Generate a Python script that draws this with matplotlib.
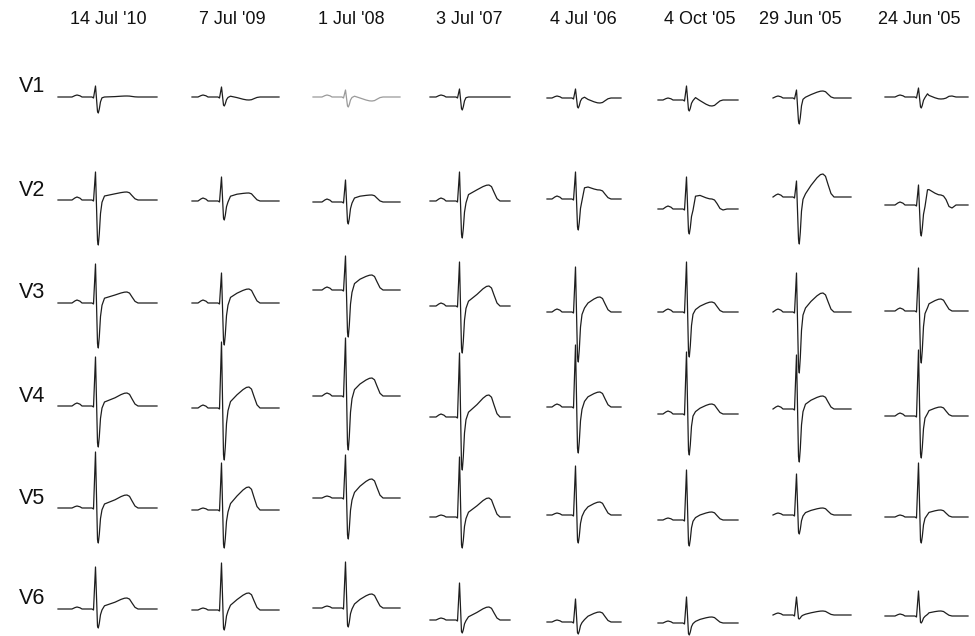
import numpy as np
import matplotlib.pyplot as plt

plt.rcParams['font.family'] = ['Liberation Sans', 'DejaVu Sans']

# recording dates (columns) and precordial leads (rows)
dates = ["14 Jul '10", "7 Jul '09", "1 Jul '08", "3 Jul '07",
         "4 Jul '06", "4 Oct '05", "29 Jun '05", "24 Jun '05"]
leads = ["V1", "V2", "V3", "V4", "V5", "V6"]

# per-cell values (pixels, up = positive)
# isoelectric level of every trace
baseline = [
    [97, 97, 97, 97, 98, 100, 98, 97],
    [200, 201, 202, 201, 199, 209, 197, 205],
    [303, 303, 290, 306, 312, 312, 312, 311],
    [406, 408, 396, 417, 407, 414, 409, 416],
    [508, 510, 498, 517, 515, 520, 515, 517],
    [609, 610, 608, 620, 622, 623, 615, 616],
]
r_amp = [
    [11, 10, 7, 8, 9, 14, 8, 9],
    [28, 24, 22, 29, 27, 32, 16, 20],
    [39, 30, 34, 44, 45, 50, 39, 43],
    [49, 66, 58, 64, 62, 62, 54, 66],
    [56, 47, 43, 60, 49, 50, 41, 54],
    [42, 47, 46, 37, 23, 26, 18, 25],
]
s_depth = [
    [16, 9, 10, 13, 10, 11, 26, 11],
    [45, 19, 22, 37, 31, 25, 47, 31],
    [45, 42, 47, 47, 50, 45, 61, 52],
    [41, 52, 54, 53, 46, 41, 53, 42],
    [35, 38, 41, 31, 28, 26, 19, 26],
    [19, 20, 19, 13, 12, 12, 4, 7],
]
st_level = [
    [0, 1, 1, 0, 1, 3, 1, 4],
    [5, 6, 5, 8, 14, 16, 4, 19],
    [6, 7, 8, 6, 5, 3, 5, 4],
    [5, 8, 8, 6, 7, 3, 6, 3],
    [5, 8, 7, 6, 5, 3, 3, 3],
    [4, 6, 5, 4, 3, 2, 1, 2],
]
t_amp = [
    [1, -3, -4, 0, -5, -6, 7, -2],
    [8, 8, 7, 16, 9, 10, 23, 10],
    [11, 14, 15, 20, 15, 10, 19, 12],
    [13, 21, 18, 22, 15, 10, 13, 9],
    [13, 23, 19, 19, 13, 8, 7, 7],
    [11, 17, 14, 13, 10, 6, 4, 5],
]
t_after = [
    [0, 0, 0, 0, 0, 0, 0, 1],
    [0, 0, 0, 0, 0, -1, 0, -3],
    [0, 0, 0, 0, 0, 0, 0, 0],
    [0, 0, 0, 0, 0, 0, 0, 0],
    [0, 0, 0, 0, 0, 0, 0, 0],
    [0, 0, 0, 0, 0, 0, 0, 0],
]
p_amp = [2, 3, 3, 3, 2, 2]

# horizontal layout of each column (pixels)
spike_x = [96, 222, 346, 460, 576, 687, 797, 919]
start_x = [58, 192, 313, 430, 547, 658, 773, 885]
end_x = [157, 279, 400, 510, 621, 738, 851, 968]
tpeak_x = [127, 249, 372, 489, 600, 712, 823, 941]
header_x = [108, 232, 351, 469, 583, 700, 800, 919]

fig = plt.figure(figsize=(9.75, 6.36), dpi=100)
ax = fig.add_axes([0, 0, 1, 1])
ax.set_xlim(0, 975)
ax.set_ylim(636, 0)
ax.axis('off')


def beat(c, i):
    xs = spike_x[c]
    dt = tpeak_x[c] - xs
    p = p_amp[i]
    r, s = r_amp[i][c], s_depth[i][c]
    st, t, u = st_level[i][c], t_amp[i][c], t_after[i][c]
    pts = [
        (start_x[c] - xs, 0), (-24, 0), (-21, 0.7 * p), (-19, p),
        (-16, 0.6 * p), (-14, 0), (-4, 0), (-2.5, -1),
        (-0.5, r), (1.5, -0.9 * s), (2.3, -s), (3.3, -0.75 * s),
        (4.5, -0.3 * s), (6, -0.05 * s), (8.5, 0.8 * st),
        (dt - 12, st + 0.4 * (t - st)), (dt - 6, st + 0.8 * (t - st)),
        (dt - 2.5, st + 0.97 * (t - st)), (dt, t), (dt + 2.5, 0.9 * t),
        (dt + 5, 0.55 * t), (dt + 8, 0.15 * t + u),
        (dt + 11, u), (dt + 15, 0), (end_x[c] - xs, 0),
    ]
    dx = np.array([q[0] for q in pts])
    dy = np.array([q[1] for q in pts])
    return xs + dx, baseline[i][c] - dy


for i, lead in enumerate(leads):
    ax.text(19, baseline[i][0] - 10, lead, fontsize=15.5, ha='left',
            va='center', color='#111111')
    for c in range(len(dates)):
        x, y = beat(c, i)
        col = '#9a9a9a' if (i == 0 and c == 2) else '#1e1e1e'
        ax.plot(x, y, color=col, lw=0.9, solid_joinstyle='round')

for c, d in enumerate(dates):
    ax.text(header_x[c], 20, d, fontsize=13, ha='center', va='center',
            color='#111111')

fig.savefig('out.png', dpi=100, facecolor='white')
